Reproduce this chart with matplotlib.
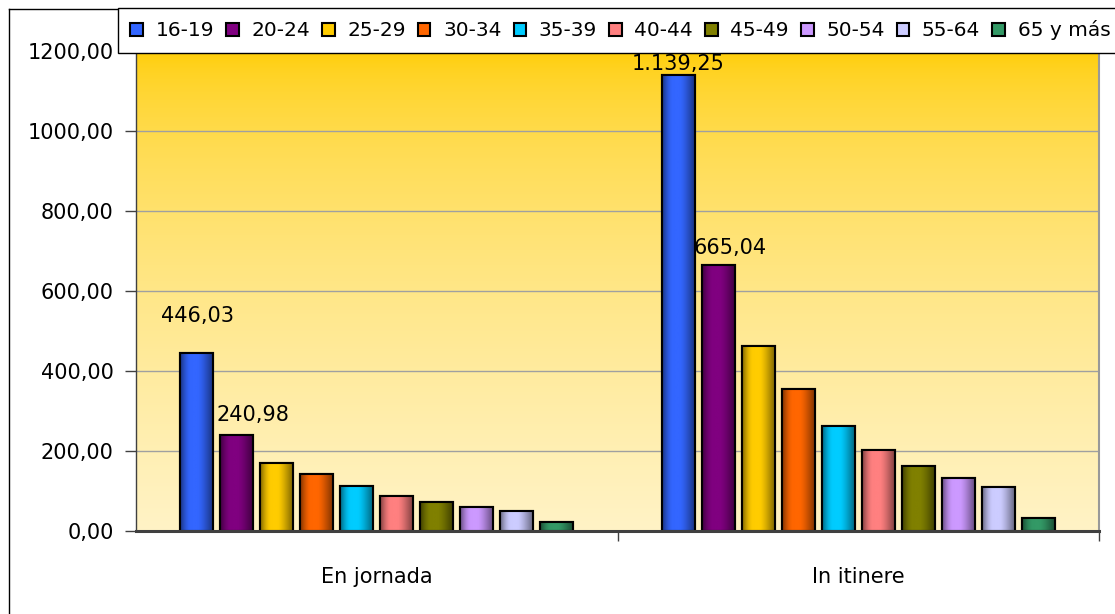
import numpy as np
import matplotlib
matplotlib.use("Agg")
import matplotlib.pyplot as plt
from matplotlib.colors import to_rgb
from matplotlib.ticker import FuncFormatter, FixedLocator
from matplotlib.lines import Line2D

# ---------------- data ----------------
categories = ["En jornada", "In itinere"]
age_groups = ["16-19", "20-24", "25-29", "30-34", "35-39",
              "40-44", "45-49", "50-54", "55-64", "65 y más"]
en_jornada = [446.03, 240.98, 171.0, 143.5, 111.5, 88.0, 73.5, 60.0, 51.0, 22.5]
in_itinere = [1139.25, 665.04, 462.0, 356.0, 263.5, 203.5, 161.5, 133.5, 111.0, 32.5]
y_ticks = [0, 200, 400, 600, 800, 1000, 1200]
# labelled points: (category index, group index, text)
labelled = [(0, 0, "446,03"), (0, 1, "240,98"), (1, 0, "1.139,25"), (1, 1, "665,04")]

colors = ["#3366FF", "#800080", "#FFCC00", "#FF6600", "#00CCFF",
          "#FF8080", "#808000", "#CC99FF", "#CCCCFF", "#339966"]
label_offsets = {(0, 0): (1, 37), (0, 1): (16, 20), (1, 0): (0, 11), (1, 1): (12, 17)}

plt.rcParams['font.family'] = ['DejaVu Sans']
FS = 15
LFS = 14.5

W, H = 1115, 614
fig = plt.figure(figsize=(W / 100, H / 100), dpi=100)
fig.patch.set_facecolor("white")

ax_l, ax_r, ax_b, ax_t = 136 / W, 1099 / W, 1 - 531 / H, 1 - 51 / H
ax = fig.add_axes([ax_l, ax_b, ax_r - ax_l, ax_t - ax_b])

# background gradient
top_c = np.array(to_rgb("#FFCC00"))
bot_c = np.array(to_rgb("#FFF3C6"))
t = np.linspace(0, 1, 300) ** 0.55
grad = (top_c[None, :] * (1 - t[:, None]) + bot_c[None, :] * t[:, None])[:, None, :]
ax.imshow(grad, extent=(0, 1, 0, 1), transform=ax.transAxes, aspect="auto", zorder=0.1)

series = np.array([en_jornada, in_itinere])  # shape (2, 10)
x = np.arange(len(categories))
slot = 40 / 481.5
bw = 33 / 481.5
n = len(age_groups)

def bar_profile(c, m=64):
    c = np.array(to_rgb(c))
    u = np.linspace(0, 1, m)
    f = np.ones_like(u)
    a = u < 0.35
    f[a] = 0.5 + 0.5 * np.sin(u[a] / 0.35 * np.pi / 2)
    b = u > 0.55
    f[b] = 1 - 0.5 * ((u[b] - 0.55) / 0.45) ** 1.3
    return (c[None, :] * f[:, None])[None, :, :]

handles = []
for i in range(n):
    pos = x + (i - (n - 1) / 2) * slot
    bars = ax.bar(pos, series[:, i], width=bw, facecolor=colors[i],
                  edgecolor="black", linewidth=1.5, zorder=4, label=age_groups[i])
    handles.append(bars)
    prof = bar_profile(colors[i])
    for p in bars.patches:
        x0, y0, w_, h_ = p.get_x(), p.get_y(), p.get_width(), p.get_height()
        ax.imshow(prof, extent=(x0, x0 + w_, y0, y0 + h_), aspect="auto",
                  zorder=4.5, interpolation="bilinear")
        ax.add_patch(plt.Rectangle((x0, y0), w_, h_, fill=False,
                                   edgecolor="black", linewidth=1.5, zorder=5))

for ci, gi, txt in labelled:
    px = x[ci] + (gi - (n - 1) / 2) * slot
    py = series[ci, gi]
    dx, dy = label_offsets[(ci, gi)]
    ax.annotate(txt, (px, py), xytext=(dx, dy), textcoords="offset pixels",
                ha="center", va="center", fontsize=FS, color="black", zorder=6)

ax.set_xlim(-0.5, 1.5)
ax.set_ylim(0, 1200)
ax.set_yticks(y_ticks)
ax.yaxis.set_major_formatter(FuncFormatter(lambda v, p: f"{v:.2f}".replace(".", ",")))
ax.set_xticks(x)
ax.set_xticklabels(categories)
ax.xaxis.set_minor_locator(FixedLocator([0.5, 1.5]))
ax.tick_params(axis="x", which="major", length=0, pad=26, labelsize=FS)
ax.tick_params(axis="x", which="minor", length=7, width=1, color="#404040")
ax.tick_params(axis="y", length=8, width=1, color="#404040", pad=8, labelsize=FS)

ax.grid(axis="y", color="#A0A0A0", linewidth=1, zorder=1)
ax.set_axisbelow(True)

ax.spines["left"].set_color("#404040")
ax.spines["left"].set_linewidth(1)
ax.spines["bottom"].set_color("#404040")
ax.spines["bottom"].set_linewidth(2.2)
ax.spines["bottom"].set_zorder(6)
for s in ("top", "right"):
    ax.spines[s].set_color("#999999")
    ax.spines[s].set_linewidth(1.5)

# outer chart border (left/top visible)
fig.add_artist(Line2D([9 / W, 9 / W], [0, 1 - 9 / H], transform=fig.transFigure,
                      color="black", linewidth=1))
fig.add_artist(Line2D([9 / W, 1], [1 - 9 / H, 1 - 9 / H], transform=fig.transFigure,
                      color="black", linewidth=1))

leg = fig.legend(handles=handles, labels=age_groups, loc="upper left",
                 bbox_to_anchor=(118 / W, 1 - 8 / H), ncol=n, frameon=True,
                 fancybox=False, edgecolor="black", fontsize=LFS,
                 handlelength=0.62, handleheight=0.62, handletextpad=0.63,
                 columnspacing=0.6, borderpad=0.62, borderaxespad=0)
leg.get_frame().set_linewidth(1)
leg.get_frame().set_facecolor("white")
leg.get_frame().set_alpha(1)

fig.savefig("out.png", dpi=100)
